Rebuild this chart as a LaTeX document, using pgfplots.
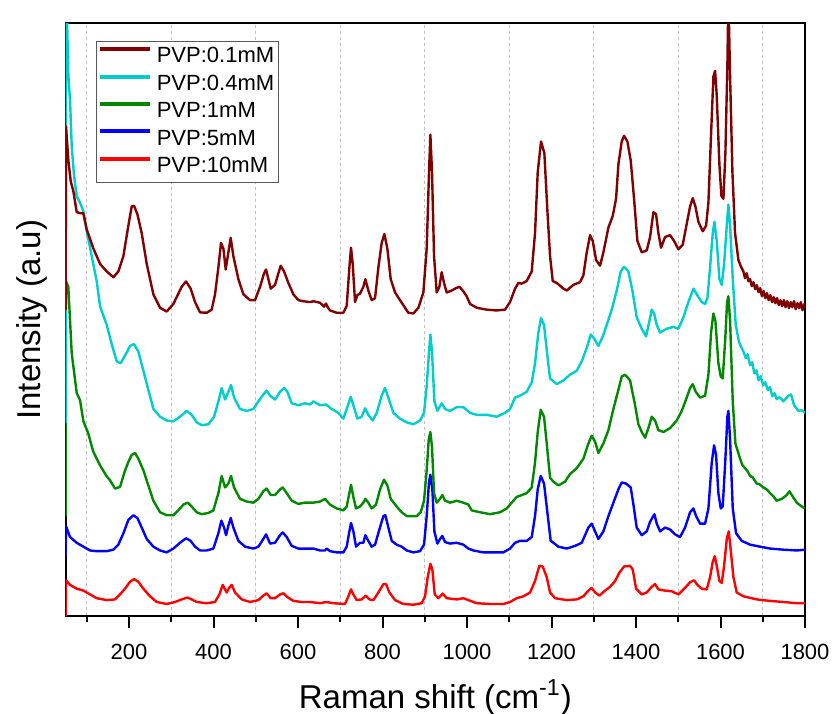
\documentclass[border=0pt]{standalone}
\usepackage{fontspec}
\setmainfont{Liberation Sans}
\usepackage{pgfplots}
\pgfplotsset{compat=1.18}
\definecolor{cDR}{RGB}{128,0,0}
\definecolor{cCY}{RGB}{0,204,204}
\definecolor{cGR}{RGB}{0,135,0}
\definecolor{cBL}{RGB}{0,0,255}
\definecolor{cRD}{RGB}{255,0,0}
\begin{document}
\begin{tikzpicture}
\begin{axis}[
  width=369.5pt, height=296.5pt, scale only axis,
  xmin=50, xmax=1800, ymin=0, ymax=593,
  axis line style={line width=1pt},
  xtick={200,400,...,1800},
  minor xtick={100,300,...,1700},
  ytick=\empty,
  xtick pos=left,
  tick align=outside,
  major tick length=6pt, minor tick length=3pt,
  every tick/.style={black, line width=1pt},
  every minor tick/.style={black, line width=1pt},
  xminorgrids=true,
  minor grid style={gray!50, dash pattern=on 1.5pt off 1.5pt, line width=0.5pt},
  /pgf/number format/assume math mode=true,
  /pgf/number format/1000 sep={},
  xticklabel style={font=\fontsize{11}{13}\selectfont, anchor=base, yshift=-15.5pt},
  xlabel={Raman shift (cm\textsuperscript{-1})},
  ylabel={Intensity (a.u)},
  xlabel style={at={(axis description cs:0.5,-0.1551)}, anchor=base, inner sep=0pt, font=\fontsize{16.5}{19}\selectfont},
  ylabel style={at={(axis description cs:-0.0346,0.5)}, anchor=base, inner sep=0pt, font=\fontsize{16.5}{19}\selectfont},
  legend style={at={(axis description cs:0.0406,0.9702)}, anchor=north west, draw=black!65, line width=0.5pt, inner sep=1pt, font=\fontsize{11}{13}\selectfont, nodes={inner sep=1pt, text height=8.8pt, text depth=2.9pt}, column sep=1.3pt, row sep=0pt, fill=white},
  legend cell align=left,
  legend image code/.code={\draw[#1, line width=2pt] (0pt,3.9pt) -- (25pt,3.9pt);},
  reverse legend,
  every axis plot/.append style={line width=1.2pt, line join=round, mark=none},
]
\coordinate (O) at (rel axis cs:0,0);
\coordinate (T) at (rel axis cs:1,1);

% PVP:10mM
\addplot[color=cRD] coordinates {(50,0)(50.9,36.0)(60.4,31.4)(76.2,27.6)(92.0,25.7)(107.8,21.9)(123.5,18.1)(147.2,16.2)(166.9,16.9)(178.8,21.9)(190.6,27.6)(202.4,34.5)(211.9,37.2)(222.2,34.5)(234.0,27.6)(249.8,20.0)(265.6,14.3)(289.2,12.3)(309.0,14.3)(324.7,16.9)(338.1,18.8)(348.4,16.9)(360.2,14.3)(383.9,13.1)(403.6,14.3)(413.9,21.9)(421.8,31.4)(427.3,26.9)(431.3,23.8)(436.8,28.4)(443.1,31.4)(451.0,23.8)(466.8,16.9)(486.5,14.3)(506.2,16.2)(518.0,20.7)(525.9,23.0)(535.4,18.1)(545.7,18.1)(557.5,21.9)(565.4,23.0)(574.9,19.2)(589.0,15.4)(608.8,14.3)(628.5,14.3)(652.1,13.1)(666.3,14.3)(683.7,13.1)(711.3,12.3)(719.2,20.0)(725.5,26.9)(731.0,21.9)(738.9,16.2)(750.8,16.9)(760.2,20.7)(768.9,16.9)(778.4,16.2)(790.2,23.8)(802.1,32.2)(808.4,32.2)(816.3,23.8)(829.7,16.2)(849.4,12.3)(873.1,11.6)(892.8,13.1)(900.7,20.0)(907.0,39.1)(913.3,52.5)(918.0,46.7)(923.6,21.9)(932.2,18.1)(942.5,22.7)(952.0,18.1)(975.6,16.9)(991.4,18.1)(1003.2,16.2)(1023.0,13.1)(1054.5,12.3)(1086.1,12.3)(1101.9,14.3)(1117.7,18.1)(1133.4,20.0)(1149.2,23.8)(1161.0,35.3)(1171.3,50.5)(1179.2,49.8)(1188.7,39.1)(1196.6,23.8)(1208.4,18.1)(1236.1,16.2)(1259.7,16.9)(1275.5,20.0)(1287.3,25.7)(1295.2,28.4)(1303.1,23.8)(1313.4,20.7)(1326.8,25.7)(1338.6,29.5)(1350.5,35.3)(1360.7,43.7)(1371.8,49.8)(1386.0,50.5)(1392.3,46.7)(1400.2,27.6)(1413.6,21.9)(1425.4,23.8)(1437.2,29.5)(1445.1,32.2)(1453.0,26.9)(1468.8,25.7)(1484.6,25.0)(1500.4,21.9)(1516.1,28.4)(1528.0,34.1)(1537.4,36.0)(1545.3,31.4)(1555.6,27.6)(1567.4,26.9)(1575.3,39.1)(1581.6,54.4)(1586.4,60.1)(1591.1,50.5)(1597.4,35.3)(1602.9,33.4)(1608.5,50.5)(1614.8,77.3)(1619.5,84.9)(1623.4,69.6)(1630.6,39.1)(1638.4,23.8)(1654.2,20.0)(1685.8,16.9)(1717.3,15.4)(1748.9,14.3)(1780.5,13.1)(1800,13.1)};
\addlegendentry{PVP:10mM}

% PVP:5mM
\addplot[color=cBL] coordinates {(50,60)(50.9,90)(60.4,79.2)(76.2,73.5)(92.0,69.6)(107.8,65.8)(123.5,65.1)(147.2,65.1)(163.0,66.6)(174.8,71.6)(186.7,83.0)(198.5,96.4)(210.3,101.0)(219.8,98.3)(230.1,88.7)(241.9,77.3)(257.7,69.6)(273.5,65.8)(289.2,63.9)(305.0,67.7)(320.8,73.5)(335.0,78.0)(346.0,75.4)(356.3,69.6)(368.1,65.8)(383.9,65.8)(399.7,67.7)(411.5,83.0)(418.6,95.6)(425.0,88.7)(429.7,81.1)(435.2,90.6)(440.7,98.3)(447.0,88.7)(458.9,75.4)(474.6,69.6)(494.4,67.7)(506.2,69.6)(518.0,77.3)(524.4,81.9)(533.8,72.7)(545.7,73.5)(557.5,81.1)(563.8,83.8)(573.3,79.2)(585.1,70.4)(600.9,67.7)(616.7,67.7)(628.5,67.7)(636.4,67.7)(652.1,65.8)(664.0,65.8)(667.9,67.7)(675.8,65.1)(691.6,63.9)(707.4,63.9)(715.3,69.6)(721.6,84.9)(725.5,93.3)(731.0,84.9)(737.4,69.6)(746.8,73.5)(754.7,73.5)(759.4,81.1)(766.5,75.4)(774.4,69.6)(782.3,71.6)(792.6,86.8)(802.1,100.2)(806.8,101.0)(813.9,88.7)(821.8,75.4)(833.6,71.6)(845.4,69.6)(857.3,65.8)(873.1,63.9)(888.8,65.1)(898.3,71.6)(904.6,100.2)(910.1,134.6)(913.3,141.5)(918.0,126.9)(922.8,84.9)(929.9,72.7)(936.2,77.3)(941.7,80.3)(948.0,74.2)(959.9,72.7)(975.6,73.5)(991.4,71.6)(1003.2,67.7)(1015.1,65.8)(1038.7,63.9)(1062.4,63.9)(1086.1,63.9)(1101.9,67.7)(1113.7,73.5)(1125.5,75.4)(1141.3,75.4)(1153.2,79.2)(1161.0,100.2)(1167.4,126.9)(1174.5,140.3)(1182.3,132.7)(1190.2,104.0)(1198.1,75.4)(1204.5,73.5)(1216.3,69.6)(1236.1,67.7)(1255.8,70.4)(1271.6,73.5)(1279.4,81.1)(1287.3,88.7)(1295.2,92.6)(1303.1,84.9)(1311.0,77.3)(1322.8,84.9)(1334.7,100.2)(1346.5,113.6)(1358.3,126.9)(1366.2,133.8)(1376.5,132.7)(1387.5,128.8)(1393.9,111.7)(1401.7,88.7)(1413.6,81.1)(1425.4,84.9)(1433.3,94.5)(1443.6,102.1)(1449.1,92.6)(1457.0,84.9)(1468.8,88.7)(1480.6,86.8)(1492.5,81.9)(1504.3,79.2)(1516.1,88.7)(1528.0,104.0)(1535.9,107.8)(1542.2,100.2)(1551.7,92.6)(1563.5,92.6)(1571.4,107.8)(1579.3,153.7)(1584.8,170.9)(1589.5,161.3)(1595.0,123.1)(1600.6,107.8)(1605.3,109.7)(1611.6,157.5)(1616.3,199.5)(1618.7,205.3)(1622.7,176.6)(1629.0,107.8)(1636.9,83.0)(1650.3,75.4)(1670.0,71.6)(1693.7,69.6)(1717.3,67.7)(1748.9,66.6)(1780.5,65.8)(1800,66.6)};
\addlegendentry{PVP:5mM}

% PVP:1mM
\addplot[color=cGR] coordinates {(50,100)(50.9,335)(56.4,329)(64.4,263)(76.3,223)(84.1,216)(92,195)(103.7,182.7)(115,165)(131.4,151)(147,140)(155.1,136)(166.9,127.7)(178.8,129.3)(190,145)(198.5,154.3)(206.4,161.3)(214.3,163.2)(222.2,157.5)(234.0,146.0)(245.8,130.8)(257.7,115.5)(273.5,104.0)(289.2,101.0)(305.0,101.0)(316.8,105.9)(328.7,111.7)(338.9,113.6)(348.4,109.7)(360.2,104.0)(372.1,102.1)(387.9,103.3)(399.7,105.9)(411.5,123.1)(419.4,140.3)(427.3,128.8)(435.2,132.7)(441.5,140.3)(448.6,128.8)(462.8,117.4)(478.6,114.7)(494.4,113.6)(506.2,117.4)(518.0,125.0)(525.9,127.7)(535.4,121.2)(545.7,121.2)(557.5,126.9)(563.8,128.8)(573.3,123.1)(585.1,115.5)(600.9,112.4)(616.7,113.6)(628.5,113.6)(636.4,113.6)(652.1,114.7)(664.0,117.4)(675.8,111.7)(691.6,107.8)(707.4,105.9)(715.3,109.7)(721.6,123.1)(725.5,131.5)(731.0,119.3)(737.4,107.8)(746.8,109.7)(754.7,113.6)(759.4,117.4)(766.5,113.6)(774.4,107.8)(784.7,111.7)(794.2,126.9)(803.6,136.5)(811.5,130.8)(819.4,117.4)(833.6,109.7)(845.4,104.0)(857.3,100.2)(869.1,100.2)(881.0,100.2)(890.4,104.0)(898.3,115.5)(904.6,146.0)(909.4,176.6)(913.3,184.2)(917.2,169.0)(922.0,123.1)(928.3,113.6)(936.2,117.4)(941.7,121.2)(948.0,115.5)(959.9,113.6)(975.6,115.5)(991.4,113.6)(1003.2,111.7)(1011.1,105.9)(1030.9,104.0)(1054.5,102.1)(1078.2,104.0)(1094.0,107.8)(1105.8,113.6)(1117.7,119.3)(1129.5,121.2)(1141.3,123.1)(1153.2,128.8)(1161.0,153.7)(1167.4,184.2)(1174.5,206.4)(1182.3,199.5)(1188.7,172.8)(1196.6,138.4)(1204.5,134.6)(1216.3,130.8)(1232.1,134.6)(1243.9,142.2)(1259.7,148.0)(1275.5,157.5)(1287.3,172.8)(1295.2,180.4)(1303.1,174.7)(1311.0,163.2)(1322.8,172.8)(1334.7,186.1)(1346.5,207.2)(1358.3,226.3)(1366.2,239.6)(1374.1,241.5)(1386.0,235.8)(1397.8,211.0)(1405.7,191.9)(1413.6,184.2)(1421.5,178.5)(1429.4,188.1)(1437.2,199.5)(1445.1,195.7)(1453.0,186.1)(1464.9,184.2)(1480.6,188.1)(1496.4,195.7)(1508.3,205.3)(1520.1,218.6)(1528.0,228.2)(1534.3,232.0)(1541.4,224.4)(1551.7,218.6)(1563.5,220.5)(1571.4,241.5)(1577.7,283.6)(1583.2,302.7)(1588.0,295.0)(1595.0,253.0)(1600.6,239.6)(1605.3,237.7)(1611.6,279.7)(1615.6,314.1)(1618.7,319.9)(1622.7,295.0)(1629.0,214.8)(1635.3,172.8)(1646.3,157.5)(1652,151)(1658.2,148.0)(1664,145)(1670.0,140.3)(1676,139)(1685.8,132.7)(1692,132)(1701.6,128.8)(1709,127)(1717.3,123.1)(1725,120)(1733.1,115.5)(1745.0,117.4)(1756.8,121.2)(1763.1,125.0)(1768.6,121.2)(1780.5,113.6)(1792.3,109.7)(1800,107.8)};
\addlegendentry{PVP:1mM}

% PVP:0.4mM
\addplot[color=cCY] coordinates {(50,193)(50.9,640)(56.5,540)(60.4,516)(64.4,470)(70,440)(76.2,420)(84.1,413.4)(92.0,405)(99.9,385)(111.7,360)(123.5,335)(131.4,310)(147.2,291.2)(159.0,272.1)(170.9,254.9)(180.3,253.0)(190.6,260.6)(202.4,270.2)(211.9,272.1)(222.2,264.5)(234.0,245.4)(245.8,226.3)(257.7,207.2)(273.5,199.5)(289.2,195.7)(305.0,194.9)(320.8,199.5)(336.6,205.3)(348.4,201.4)(360.2,193.8)(372.1,191.1)(387.9,191.9)(401.3,199.5)(411.5,214.8)(419.4,228.2)(427.3,216.7)(435.2,224.4)(441.5,231.2)(448.6,218.6)(462.8,207.2)(478.6,205.3)(494.4,207.2)(506.2,214.8)(518.0,221.7)(525.9,225.5)(533.8,220.5)(545.7,216.7)(557.5,224.4)(567.0,228.2)(574.9,224.4)(585.1,212.9)(600.9,211.0)(616.7,212.9)(628.5,211.7)(636.4,214.8)(652.1,211.0)(666.3,211.7)(679.8,207.2)(695.5,203.3)(707.4,197.6)(715.3,207.2)(724.7,219.4)(731.0,211.0)(740.5,197.6)(750.8,199.5)(758.7,207.9)(766.5,201.4)(776.8,195.7)(786.3,203.3)(798.1,220.5)(806.0,228.2)(813.9,218.6)(825.7,203.3)(841.5,197.6)(857.3,193.8)(873.1,191.9)(888.8,195.7)(898.3,203.3)(904.6,230.1)(910.1,264.5)(913.3,281.7)(917.2,264.5)(922.8,214.8)(929.9,205.3)(940.1,212.9)(948.0,207.2)(959.9,205.3)(975.6,209.1)(991.4,209.1)(1007.2,203.3)(1023.0,201.4)(1046.6,201.4)(1070.3,199.5)(1090.0,203.3)(1101.9,207.2)(1113.7,218.6)(1125.5,220.5)(1141.3,224.4)(1153.2,233.9)(1161.0,253.0)(1168.9,283.6)(1175.2,298.1)(1182.3,291.2)(1190.2,260.6)(1196.6,237.7)(1212.4,232.0)(1228.2,235.8)(1243.9,241.5)(1259.7,245.4)(1271.6,254.9)(1283.4,268.3)(1292.9,281.7)(1300.7,277.8)(1311.0,270.2)(1321.3,279.7)(1330.7,291.2)(1342.6,306.5)(1354.4,325.6)(1363.9,344.7)(1371.8,349.3)(1382.0,344.7)(1392.3,323.7)(1401.7,298.8)(1413.6,287.4)(1423.8,279.7)(1431.7,295.0)(1437.2,306.5)(1442.8,302.7)(1449.1,291.2)(1457.0,283.6)(1472.8,287.4)(1488.5,289.3)(1500.4,287.4)(1512.2,298.8)(1524.0,314.1)(1535.9,327.5)(1543.8,321.8)(1555.6,314.1)(1563.5,312.2)(1569.0,317.9)(1575.3,348.5)(1581.6,382.9)(1585.6,394.3)(1591.1,375.2)(1597.4,337.0)(1602.9,331.3)(1608.5,352.3)(1614.8,390.5)(1618.7,411.5)(1622.7,390.5)(1629.0,337.0)(1636.1,291.2)(1643.9,274.0)(1654.2,264.5)(1660,258)(1664,262)(1670,251)(1675,254)(1680,243)(1685,246)(1690,236)(1695,240)(1701,231)(1706,234)(1712,226)(1717,229)(1723,220)(1728,223)(1733,217)(1740,219)(1748.9,214.8)(1760.7,220.5)(1767.0,221.7)(1774.1,211.0)(1784.4,205.3)(1792,206)(1800,203.3)};
\addlegendentry{PVP:0.4mM}

% PVP:0.1mM
\addplot[color=cDR] coordinates {(50,306)(50.9,489.8)(56.5,455.5)(62,435)(68.3,424.9)(76.2,404)(84,403)(92.0,402.7)(99.9,386.7)(115.7,367.6)(131.4,352.3)(147.2,344.7)(163.0,338.9)(174.8,344.7)(186.7,360.0)(198.5,390.5)(206.4,409.6)(211.9,410.4)(219.8,402.0)(230.1,382.9)(241.9,352.3)(257.7,321.8)(273.5,308.4)(289.2,304.6)(305.0,312.2)(324.7,329.4)(335.0,334.7)(346.0,327.5)(356.3,314.1)(368.1,303.8)(383.9,303.4)(395.7,306.5)(403.6,321.8)(411.5,348.5)(417.8,373.3)(423.4,367.6)(428.9,346.6)(435.2,363.8)(440.7,378.3)(447.0,360.0)(458.9,337.0)(470.7,321.8)(486.5,316.0)(498.3,316.0)(510.2,329.4)(519.6,342.8)(524.4,346.6)(529.9,337.0)(535.4,327.5)(545.7,331.3)(553.5,342.8)(559.1,350.4)(567.0,344.7)(577.2,333.2)(589.0,321.8)(600.9,316.0)(612.7,314.9)(628.5,314.1)(636.4,314.9)(652.1,313.4)(661.6,309.5)(666.3,312.6)(671.1,308.4)(675.8,305.7)(691.6,303.4)(707.4,303.4)(715.3,310.3)(721.6,348.5)(725.5,368.4)(729.5,352.3)(735.0,314.1)(740.5,321.0)(746.8,322.5)(754.7,329.4)(759.4,337.0)(766.5,325.6)(774.4,316.0)(782.3,317.9)(790.2,348.5)(798.1,373.3)(804.4,382.1)(811.5,367.6)(819.4,337.0)(829.7,323.7)(841.5,316.0)(853.3,308.4)(861.2,303.4)(873.1,302.7)(884.9,308.4)(896.7,323.7)(904.6,367.6)(910.1,444.0)(913.3,481.4)(917.2,444.0)(922.0,360.0)(928.3,323.7)(934.6,329.4)(940.1,343.9)(945.6,333.2)(952.0,323.7)(963.8,325.6)(971.7,327.5)(982.0,329.4)(991.4,324.8)(999.3,319.8)(1007.2,312.2)(1023.0,308.4)(1046.6,306.5)(1070.3,305.7)(1090.0,306.5)(1101.9,314.1)(1113.7,327.5)(1121.6,333.2)(1129.5,332.5)(1141.3,335.1)(1153.2,344.7)(1161.0,382.9)(1167.4,444.0)(1175.2,474.6)(1183.1,463.1)(1190.2,405.8)(1196.6,360)(1202.9,335.1)(1212.4,333.2)(1228.2,327.5)(1236.1,325.6)(1251.8,331.3)(1267.6,334.0)(1275.5,340.9)(1283.4,363.8)(1291.3,381.0)(1297.6,375.2)(1305.5,356.1)(1314.9,350.4)(1322.8,363.8)(1334.7,388.6)(1344.9,400.1)(1352.8,417.3)(1358.3,451.6)(1366.2,474.6)(1371.8,480.3)(1379.6,474.6)(1387.5,455.5)(1395.4,417.3)(1403.3,375.2)(1413.6,363.8)(1425.4,365.7)(1433.3,379.1)(1441.2,403.9)(1447.5,402.0)(1453.0,382.9)(1459.3,368.4)(1468.8,379.1)(1480.6,381.0)(1490.1,375.2)(1500.4,366.8)(1510.6,371.4)(1520.1,392.4)(1528.0,409.6)(1534.3,418.0)(1540.6,409.6)(1547.7,394.3)(1558.0,384.8)(1565.9,390.5)(1571.4,413.4)(1577.7,482.2)(1583.2,539.5)(1587.2,545.2)(1591.1,520.4)(1597.4,451.6)(1602.1,420.3)(1606.9,417.3)(1611.6,463.1)(1616.3,551.0)(1618.7,620)(1622.7,539.5)(1628.2,444.0)(1634.5,382.9)(1642.4,356.1)(1648,350)(1654.2,344.7)(1658,338)(1662,343)(1666,335)(1670,337)(1674,330)(1678,334)(1682,327)(1686,331)(1690,324)(1694,328)(1698,320)(1702,325)(1706,318)(1710,323)(1714,316)(1718,321)(1722,314)(1726,319)(1730,313)(1734,318)(1738,311)(1742,316)(1746,310)(1750,316)(1754,309)(1758,315)(1762,308)(1766,314)(1770,309)(1774,315)(1778,307)(1782,313)(1786,308)(1790,314)(1794,306)(1798,312)(1800,309)};
\addlegendentry{PVP:0.1mM}
\end{axis}
\pgfresetboundingbox
\path ([xshift=-32.8pt,yshift=-48.5pt]O) rectangle ([xshift=14pt,yshift=11.5pt]T);
\end{tikzpicture}
\end{document}
